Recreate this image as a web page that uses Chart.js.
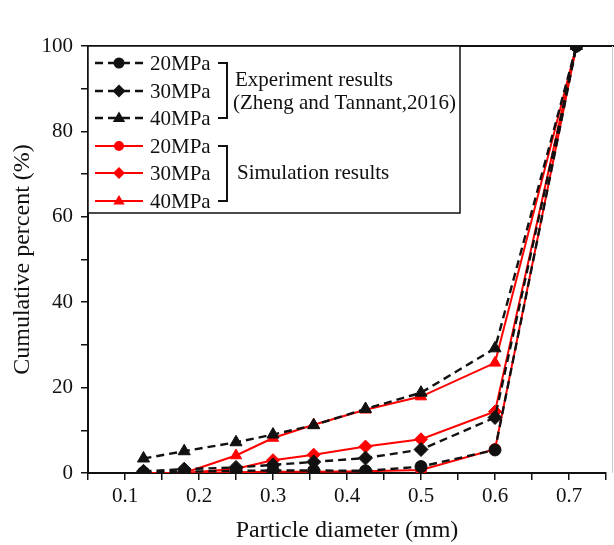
<!DOCTYPE html>
<html>
<head>
<meta charset="utf-8">
<script src="https://cdn.jsdelivr.net/npm/chart.js@4.4.1/dist/chart.umd.min.js"></script>
<style>
  html, body { margin: 0; padding: 0; background: #fff; }
  canvas { display: block; }
</style>
</head>
<body>
<canvas id="psdChart" width="614" height="545"></canvas>
<script>
// Particle sizes (mm) used by both experiment and simulation
const sizes = [0.125, 0.18, 0.25, 0.3, 0.355, 0.425, 0.5, 0.6, 0.71];

// Experiment results (Zheng and Tannant, 2016), cumulative %
const exp20 = [0.1, 0.3, 0.5, 0.6, 0.6, 0.5, 1.5, 5.4, 100];
const exp30 = [0.4, 0.9, 1.3, 1.9, 2.6, 3.5, 5.5, 13.0, 100];
const exp40 = [3.4, 5.1, 7.2, 9.0, 11.2, 15.0, 18.8, 29.2, 100];

// Simulation results, cumulative %
const sim20 = [0, 0, 0.2, 0.3, 0.3, 0.4, 0.7, 5.6, 100];
const sim30 = [0, 0, 1.0, 3.0, 4.3, 6.2, 7.9, 14.4, 100];
const sim40 = [0, 0, 4.1, 8.2, 11.3, 14.8, 17.9, 25.8, 100];

const seriesLabels = ["20MPa", "30MPa", "40MPa"];
const xTickLabels = ["0.1", "0.2", "0.3", "0.4", "0.5", "0.6", "0.7"];
const yTickLabels = ["0", "20", "40", "60", "80", "100"];

const FONT = "'Liberation Serif', 'Times New Roman', serif";
const BLACK = "#111111";
const RED = "#ff0000";

function toPoints(values) {
    return values.map((v, i) => ({ x: sizes[i], y: v }));
}

function makeSet(label, values, color, style, radius, dashed) {
    return {
        label: label,
        data: toPoints(values),
        borderColor: color,
        backgroundColor: color,
        borderWidth: dashed ? 2.4 : 2,
        borderDash: dashed ? [8, 5] : [],
        pointStyle: style,
        pointRadius: radius,
        pointHoverRadius: radius,
        pointBorderWidth: 1,
        tension: 0,
        fill: false,
    };
}

// experiment sets come first so they are painted on top
const datasets = [
    makeSet(seriesLabels[0], exp20, BLACK, "circle", 6, true),
    makeSet(seriesLabels[1], exp30, BLACK, "rectRot", 7, true),
    makeSet(seriesLabels[2], exp40, BLACK, "triangle", 7, true),
    makeSet(seriesLabels[0], sim20, RED, "circle", 5.5, false),
    makeSet(seriesLabels[1], sim30, RED, "rectRot", 6.5, false),
    makeSet(seriesLabels[2], sim40, RED, "triangle", 6.5, false),
];

// small marker painter for the legend box
function drawMarker(ctx, style, x, y, r, color) {
    ctx.save();
    ctx.fillStyle = color;
    ctx.beginPath();
    if (style === "circle") {
        ctx.arc(x, y, r, 0, Math.PI * 2);
    } else if (style === "rectRot") {
        ctx.moveTo(x, y - r);
        ctx.lineTo(x + r, y);
        ctx.lineTo(x, y + r);
        ctx.lineTo(x - r, y);
    } else {
        ctx.moveTo(x, y - r);
        ctx.lineTo(x + r * 0.95, y + r * 0.6);
        ctx.lineTo(x - r * 0.95, y + r * 0.6);
    }
    ctx.closePath();
    ctx.fill();
    ctx.restore();
}

const framePlugin = {
    id: "frame",
    afterDraw(chart) {
        const ctx = chart.ctx;
        const area = chart.chartArea;
        ctx.save();
        // top border
        ctx.strokeStyle = BLACK;
        ctx.lineWidth = 2;
        ctx.beginPath();
        ctx.moveTo(area.left, area.top);
        ctx.lineTo(chart.width, area.top);
        ctx.stroke();
        // faint right edge
        ctx.strokeStyle = "#cccccc";
        ctx.lineWidth = 1;
        ctx.beginPath();
        ctx.moveTo(612.5, area.top);
        ctx.lineTo(612.5, area.bottom);
        ctx.stroke();

        // legend box
        const boxL = area.left, boxT = area.top, boxR = 460, boxB = 213;
        ctx.fillStyle = "#ffffff";
        ctx.fillRect(boxL, boxT, boxR - boxL, boxB - boxT);
        ctx.strokeStyle = BLACK;
        ctx.lineWidth = 1.5;
        ctx.strokeRect(boxL, boxT, boxR - boxL, boxB - boxT);

        const rows = [63, 91, 118, 146, 173, 201];
        ctx.font = "21px " + FONT;
        ctx.textBaseline = "middle";
        ctx.textAlign = "left";
        datasets.forEach((ds, i) => {
            const y = rows[i];
            ctx.strokeStyle = ds.borderColor;
            ctx.lineWidth = ds.borderWidth;
            ctx.beginPath();
            if (ds.borderDash.length) {
                ctx.moveTo(95, y); ctx.lineTo(103, y);
                ctx.moveTo(108, y); ctx.lineTo(130, y);
                ctx.moveTo(135, y); ctx.lineTo(143, y);
            } else {
                ctx.moveTo(95, y); ctx.lineTo(143, y);
            }
            ctx.stroke();
            drawMarker(ctx, ds.pointStyle, 119, y, ds.pointRadius - 0.5, ds.borderColor);
            ctx.fillStyle = BLACK;
            ctx.fillText(ds.label, 150, y + 1);
        });

        // brackets
        ctx.strokeStyle = BLACK;
        ctx.lineWidth = 2;
        [[rows[0], rows[2]], [rows[3], rows[5]]].forEach(([a, b]) => {
            ctx.beginPath();
            ctx.moveTo(218, a);
            ctx.lineTo(227, a);
            ctx.lineTo(227, b);
            ctx.lineTo(218, b);
            ctx.stroke();
        });

        ctx.fillStyle = BLACK;
        ctx.fillText("Experiment results", 235, 80);
        ctx.fillText("(Zheng and Tannant,2016)", 233, 103);
        ctx.fillText("Simulation results", 237, 173);
        ctx.restore();
    },
};

const ctx = document.getElementById("psdChart").getContext("2d");

new Chart(ctx, {
    type: "line",
    data: { datasets: datasets },
    plugins: [framePlugin],
    options: {
        responsive: false,
        animation: false,
        events: [],
        layout: { padding: { top: 46, right: 2, left: 0, bottom: 0 } },
        plugins: {
            legend: { display: false },
            tooltip: { enabled: false },
        },
        scales: {
            x: {
                type: "linear",
                min: 0.05,
                max: 0.75,
                afterFit: (scale) => { scale.height = 72; },
                border: { display: true, color: BLACK, width: 2 },
                grid: { display: true, drawOnChartArea: false, drawTicks: true, tickLength: 7, color: BLACK, lineWidth: 1.5 },
                ticks: {
                    stepSize: 0.05,
                    padding: 4,
                    maxRotation: 0,
                    autoSkip: false,
                    color: BLACK,
                    font: { family: FONT, size: 21 },
                    callback: (value) => {
                        const s = value.toFixed(2);
                        const label = value.toFixed(1);
                        return (s.endsWith("0") && xTickLabels.includes(label)) ? label : "";
                    },
                },
                title: {
                    display: true,
                    text: "Particle diameter (mm)",
                    color: BLACK,
                    font: { family: FONT, size: 24 },
                    padding: { top: 12, bottom: 0 },
                },
            },
            y: {
                min: 0,
                max: 100,
                afterFit: (scale) => { scale.width = 88; },
                border: { display: true, color: BLACK, width: 2 },
                grid: { display: true, drawOnChartArea: false, drawTicks: true, tickLength: 7, color: BLACK, lineWidth: 1.5 },
                ticks: {
                    stepSize: 10,
                    padding: 8,
                    autoSkip: false,
                    color: BLACK,
                    font: { family: FONT, size: 21 },
                    callback: (value) => {
                        const label = String(Math.round(value));
                        return (value % 20 === 0 && yTickLabels.includes(label)) ? label : "";
                    },
                },
                title: {
                    display: true,
                    text: "Cumulative percent (%)",
                    color: BLACK,
                    font: { family: FONT, size: 24 },
                    padding: { top: 8, bottom: 0 },
                },
            },
        },
    },
});
</script>
</body>
</html>
